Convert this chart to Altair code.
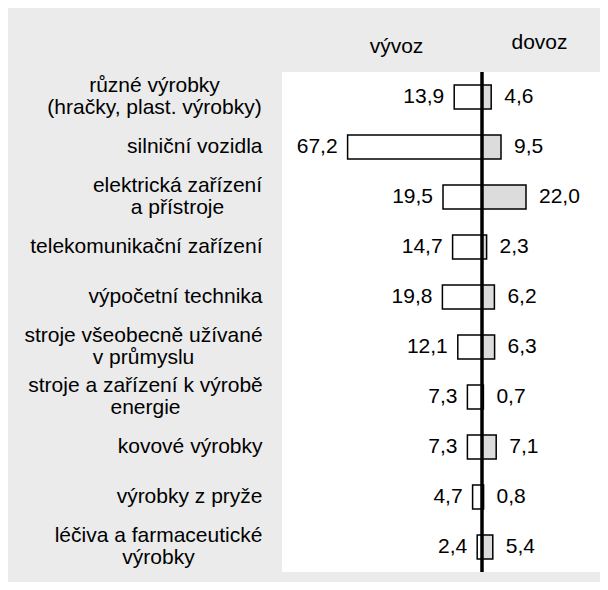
import altair as alt
import pandas as pd

categories = [
    "různé výrobky\n(hračky, plast. výrobky)",
    "silniční vozidla",
    "elektrická zařízení\na přístroje",
    "telekomunikační zařízení",
    "výpočetní technika",
    "stroje všeobecně užívané\nv průmyslu",
    "stroje a zařízení k výrobě\nenergie",
    "kovové výrobky",
    "výrobky z pryže",
    "léčiva a farmaceutické\nvýrobky",
]
export_vals = [13.9, 67.2, 19.5, 14.7, 19.8, 12.1, 7.3, 7.3, 4.7, 2.4]
import_vals = [4.6, 9.5, 22.0, 2.3, 6.2, 6.3, 0.7, 7.1, 0.8, 5.4]
headers = ["vývoz", "dovoz"]

rows = []
for c, e, i in zip(categories, export_vals, import_vals):
    rows.append({"category": c, "side": headers[0], "signed": -e,
                 "label": f"{e:.1f}".replace(".", ",")})
    rows.append({"category": c, "side": headers[1], "signed": i,
                 "label": f"{i:.1f}".replace(".", ",")})
df = pd.DataFrame(rows)

FONT = "Liberation Sans"
FS = 21
LABEL_GAP = 20

# styling: half widths (px) of the widest line of each two-line label,
# so that its lines are centred within a right-aligned block
half_width = {
    categories[0]: 108,
    categories[2]: 85,
    categories[5]: 119,
    categories[6]: 117,
    categories[9]: 104,
}

multi_test = "indexof(datum.value, '\\n') >= 0"
pad_conditions = [
    {"test": f"indexof(datum.value, '{c.split(chr(10))[0]}') === 0",
     "value": LABEL_GAP + h}
    for c, h in half_width.items()
]

y_enc = alt.Y(
    "category:N",
    sort=categories,
    scale=alt.Scale(paddingInner=0.52, paddingOuter=0.26),
    axis=alt.Axis(
        title=None,
        labelExpr="split(datum.label, '\\n')",
        labelPadding={"condition": pad_conditions, "value": LABEL_GAP},
        labelAlign={"condition": {"test": multi_test, "value": "center"}, "value": "right"},
        labelOffset={"condition": {"test": multi_test, "value": -11}, "value": 0},
        labelFontSize=FS,
        labelFont=FONT,
        labelColor="black",
        labelLineHeight=22,
        labelLimit=0,
        domain=False,
        ticks=False,
        grid=False,
    ),
)

x_enc = alt.X(
    "signed:Q",
    scale=alt.Scale(domain=[-100, 59], nice=False, zero=False),
    axis=alt.Axis(
        title=None,
        orient="top",
        values=[-43, 28.5],
        labelExpr=f"datum.value < 0 ? '{headers[0]}' : '{headers[1]}'",
        labelFontSize=FS,
        labelFont=FONT,
        labelColor="black",
        labelPadding={"condition": {"test": "datum.value > 0", "value": 20}, "value": 16},
        labelFlush=False,
        labelOverlap=False,
        domain=False,
        ticks=False,
        grid=False,
    ),
)

base = alt.Chart(df)

bars = base.mark_bar(stroke="black", strokeWidth=1.5).encode(
    x=x_enc,
    x2=alt.X2(datum=0),
    y=y_enc,
    color=alt.Color(
        "side:N",
        scale=alt.Scale(domain=headers, range=["white", "#dcdcdc"]),
        legend=None,
    ),
)

rule = alt.Chart(pd.DataFrame({"zero": [0]})).mark_rule(
    color="black", strokeWidth=3.5
).encode(x=alt.X("zero:Q"))

text_exp = base.transform_filter(alt.datum.side == headers[0]).mark_text(
    align="right", baseline="middle", dx=-10, fontSize=FS, font=FONT, color="black"
).encode(x=alt.X("signed:Q"), y=y_enc, text="label:N")

text_imp = base.transform_filter(alt.datum.side == headers[1]).mark_text(
    align="left", baseline="middle", dx=13, fontSize=FS, font=FONT, color="black"
).encode(x=alt.X("signed:Q"), y=y_enc, text="label:N")

chart = (
    alt.layer(bars, rule, text_exp, text_imp)
    .properties(
        width=318,
        height=500,
        padding={"left": 274, "top": 64, "right": 0, "bottom": 10},
        autosize=alt.AutoSizeParams(type="none"),
        background="#ebebeb",
    )
    .configure(font=FONT)
    .configure_view(fill="white", strokeWidth=0)
)

chart.save("out.html", embed_options={"renderer": "svg", "actions": False})
